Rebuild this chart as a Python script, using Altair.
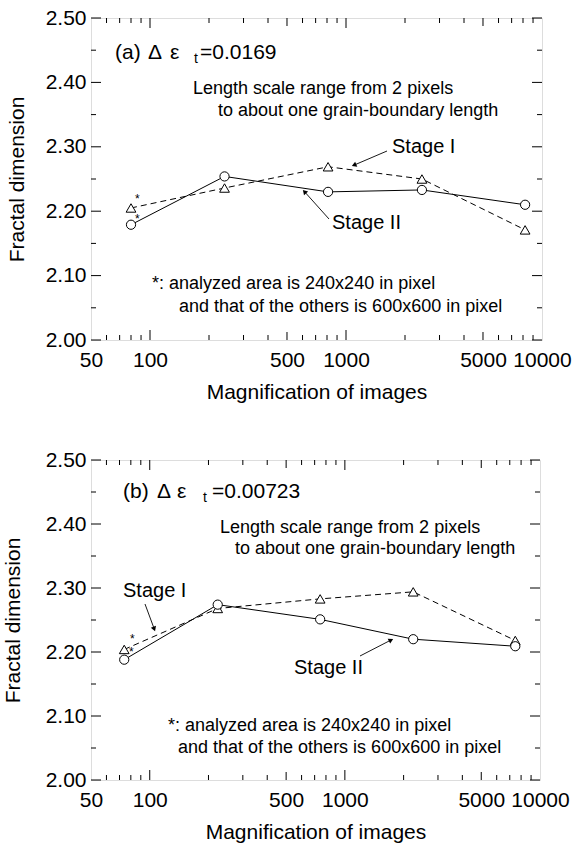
import math
import altair as alt
import pandas as pd

# ---------------- data ----------------
mag_a = [80, 240, 810, 2440, 8200]
stage1_a = [2.205, 2.236, 2.269, 2.250, 2.171]
stage2_a = [2.179, 2.254, 2.230, 2.233, 2.210]

mag_b = [74, 223, 747, 2240, 7470]
stage1_b = [2.204, 2.268, 2.283, 2.294, 2.218]
stage2_b = [2.188, 2.274, 2.251, 2.220, 2.209]

x_labels = [50, 100, 500, 1000, 5000, 10000]
x_minor = [60, 70, 80, 90, 200, 300, 400, 600, 700, 800, 900,
           2000, 3000, 4000, 6000, 7000, 8000, 9000]
x_mid = [500, 5000]
x_major = [100, 1000]
y_major = [2.0, 2.1, 2.2, 2.3, 2.4, 2.5]
y_minor = [2.05, 2.15, 2.25, 2.35, 2.45]

note1 = "Length scale range from 2 pixels"
note2 = "to about one grain-boundary length"
foot1 = "*: analyzed area is 240x240 in pixel"
foot2 = "and that of the others is 600x600 in pixel"

# ---------------- style ----------------
FONT = "Liberation Sans"
BIG = 21
STAGE = 20
NOTE = 18

xscale = alt.Scale(type="log", domain=[50, 10000], nice=False)
yscale = alt.Scale(domain=[2.0, 2.5], nice=False, zero=False)


def axes(title_pad_y):
    x_axis = alt.Axis(values=x_labels, format="d", ticks=False, domain=False, grid=False,
                      labelFontSize=BIG, labelFont=FONT, labelColor="black", labelPadding=9,
                      labelFlush=False, labelOverlap=False,
                      title="Magnification of images", titleFont=FONT, titleFontSize=BIG,
                      titleFontWeight="normal", titleColor="black", titlePadding=11)
    y_axis = alt.Axis(values=y_major, format=".2f", ticks=False, tickSize=0, domain=False,
                      grid=False, labelFontSize=BIG, labelFont=FONT, labelColor="black",
                      labelPadding=5, labelFlush=False, labelOverlap=False,
                      title="Fractal dimension", titleFont=FONT, titleFontSize=BIG,
                      titleFontWeight="normal", titleColor="black", titlePadding=title_pad_y)
    return x_axis, y_axis


one = pd.DataFrame({"k": [0]})


def text(t, x, y, size=NOTE):
    return alt.Chart(pd.DataFrame({"t": [t]})).mark_text(
        align="left", baseline="middle", font=FONT, fontSize=size, color="black"
    ).encode(text="t:N", x=alt.value(x), y=alt.value(y))


def arrow(x1, y1, x2, y2):
    dx, dy = x2 - x1, y2 - y1
    ang = math.degrees(math.atan2(dx, -dy)) % 360
    L = math.hypot(dx, dy)
    hx, hy = x2 - dx / L * 3, y2 - dy / L * 3
    line = alt.Chart(one).mark_rule(color="black", strokeWidth=0.9).encode(
        x=alt.value(x1), y=alt.value(y1), x2=alt.value(hx), y2=alt.value(hy))
    head = alt.Chart(one).mark_point(shape="triangle", filled=True, color="black",
                                     opacity=1, size=30, angle=ang).encode(
        x=alt.value(hx), y=alt.value(hy))
    return [line, head]


def panel(mag, s1, s2, words, P, W, H, title_pad_y):
    x_axis, y_axis = axes(title_pad_y)
    X = lambda: alt.X("mag:Q", scale=xscale, axis=x_axis)
    Y = lambda: alt.Y("val:Q", scale=yscale, axis=y_axis)

    layers = []
    for vals, ln in ((x_minor, 5), (x_mid, 8), (x_major, 10)):
        d = pd.DataFrame({"mag": vals})
        layers.append(alt.Chart(d).mark_rule(color="black", strokeWidth=1).encode(
            x=X(), y=alt.value(H), y2=alt.value(H - ln)))
        layers.append(alt.Chart(d).mark_rule(color="black", strokeWidth=1).encode(
            x=X(), y=alt.value(0), y2=alt.value(ln)))
    for vals, ln in ((y_minor, 5), (y_major, 10)):
        d = pd.DataFrame({"val": vals})
        layers.append(alt.Chart(d).mark_rule(color="black", strokeWidth=1).encode(
            y=Y(), x=alt.value(0), x2=alt.value(ln)))
        layers.append(alt.Chart(d).mark_rule(color="black", strokeWidth=1).encode(
            y=Y(), x=alt.value(W), x2=alt.value(W - ln)))

    d1 = pd.DataFrame({"mag": mag, "val": s1})
    d2 = pd.DataFrame({"mag": mag, "val": s2})
    layers += [
        alt.Chart(d1).mark_line(color="black", strokeWidth=1, strokeDash=[6, 4]).encode(x=X(), y=Y()),
        alt.Chart(d2).mark_line(color="black", strokeWidth=1).encode(x=X(), y=Y()),
        alt.Chart(d1).mark_point(shape="triangle-up", filled=True, fill="white", stroke="black",
                                 strokeWidth=1, size=95, opacity=1).encode(x=X(), y=Y()),
        alt.Chart(d2).mark_point(shape="circle", filled=True, fill="white", stroke="black",
                                 strokeWidth=1, size=85, opacity=1).encode(x=X(), y=Y()),
    ]
    lab, delta, eps, sub, val = words
    layers += [
        text(lab, P["lab"][0], P["lab"][1], BIG),
        text(delta, P["dl"][0], P["lab"][1], BIG),
        text(eps, P["ep"][0], P["lab"][1], BIG),
        text(sub, P["sub"][0], P["sub"][1], 14),
        text(val, P["val"][0], P["lab"][1], BIG),
        text(note1, P["n1"][0], P["n1"][1]),
        text(note2, P["n2"][0], P["n2"][1]),
        text("Stage I", P["s1"][0], P["s1"][1], STAGE),
        text("Stage II", P["s2"][0], P["s2"][1], STAGE),
        text("*", P["st1"][0], P["st1"][1], 12),
        text("*", P["st2"][0], P["st2"][1], 12),
        text(foot1, P["f1"][0], P["f1"][1]),
        text(foot2, P["f2"][0], P["f2"][1]),
    ]
    layers += arrow(*P["a1"]) + arrow(*P["a2"])
    return alt.layer(*layers).properties(width=W, height=H)


pos_a = dict(lab=(24, 35), dl=(57, 0), ep=(79, 0), sub=(103, 41), val=(109, 0),
             n1=(102, 71), n2=(127, 93),
             s1=(301, 129), s2=(241, 205), st1=(44, 181), st2=(44, 201),
             f1=(61, 266), f2=(88, 289),
             a1=(296, 133, 261, 148), a2=(238, 201, 212, 172))
pos_b = dict(lab=(32, 32), dl=(66, 0), ep=(86, 0), sub=(112, 38), val=(121, 0),
             n1=(129, 68), n2=(144, 89),
             s1=(32, 131), s2=(203, 208), st1=(39, 179), st2=(38, 192),
             f1=(77, 266), f2=(87, 288),
             a1=(54, 144, 64, 171), a2=(269, 196, 302, 179))

top = panel(mag_a, stage1_a, stage2_a, ("(a)", "Δ", "ε", "t", "=0.0169"), pos_a, 451, 322, 18)
bottom = panel(mag_b, stage1_b, stage2_b, ("(b)", "Δ", "ε", "t", "=0.00723"), pos_b, 449, 320, 22)

chart = alt.vconcat(top, bottom, spacing=45).properties(
    padding={"left": 1, "top": 6, "right": 0, "bottom": 0}
).configure_view(stroke="black", strokeWidth=1.4).configure(background="white")

chart.save("out.html", embed_options={"renderer": "svg", "actions": False})
